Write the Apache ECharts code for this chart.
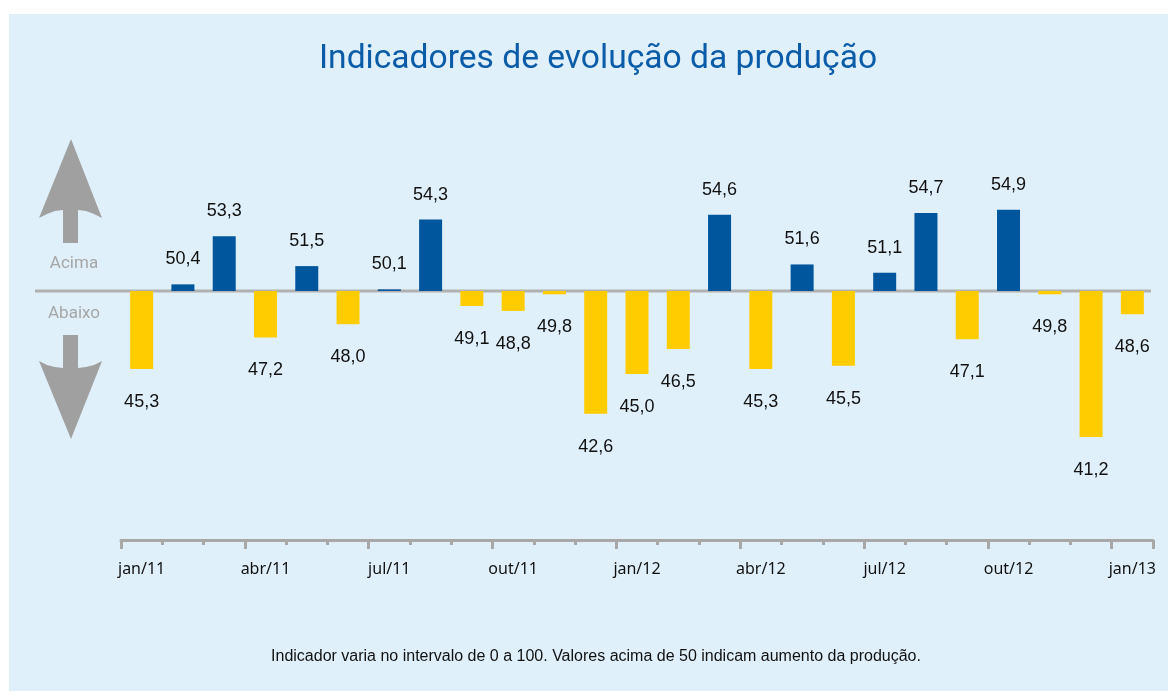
<!DOCTYPE html>
<html>
<head>
<meta charset="utf-8">
<script src="https://cdn.jsdelivr.net/npm/echarts@6/dist/echarts.min.js"></script>
<style>
  html, body { margin: 0; padding: 0; background: #ffffff; }
  #panel { position: absolute; left: 9px; top: 14px; width: 1159px; height: 677px; background: #dff0fb; }
  #main { position: absolute; left: 0; top: 0; width: 1168px; height: 691px; }
</style>
</head>
<body>
<div id="panel"></div>
<div id="main"></div>
<script>
// meses (jan/11 .. jan/13)
const months = ['jan/11','fev/11','mar/11','abr/11','mai/11','jun/11','jul/11','ago/11','set/11','out/11','nov/11','dez/11',
                'jan/12','fev/12','mar/12','abr/12','mai/12','jun/12','jul/12','ago/12','set/12','out/12','nov/12','dez/12','jan/13'];
// indicador de evolucao da producao
const values = [45.3, 50.4, 53.3, 47.2, 51.5, 48.0, 50.1, 54.3, 49.1, 48.8, 49.8, 42.6,
                45.0, 46.5, 54.6, 45.3, 51.6, 45.5, 51.1, 54.7, 47.1, 54.9, 49.8, 41.2, 48.6];
const baseline = 50;

const blue = '#00569c';
const yellow = '#ffcc00';
const grey = '#b1b1b1';
const axisGrey = '#a8a8a8';

var myChart = echarts.init(document.getElementById('main'));

// bars are drawn relative to 50 (acima / abaixo)
const barData = values.map((v) => {
    const above = v >= baseline;
    return {
        value: +(v - baseline).toFixed(1),
        raw: v,
        itemStyle: { color: above ? blue : yellow },
        label: { position: above ? 'top' : 'bottom', distance: above ? 16 : 24 }
    };
});

const fmt = (v) => v.toFixed(1).replace('.', ',');

const option = {
    animation: false,
    title: {
        text: 'Indicadores de evolução da produção',
        left: 593,
        top: 38,
        textAlign: 'center',
        textStyle: { fontFamily: 'Roboto', fontSize: 33.6, fontWeight: 'normal', color: '#0b5ca8' }
    },
    grid: { left: 121, right: 15, top: 125, bottom: 151 },
    xAxis: [
        {
            type: 'category',
            data: months,
            position: 'bottom',
            axisLine: { show: true, onZero: false, lineStyle: { color: axisGrey, width: 3 } },
            axisTick: { show: true, interval: 0, length: 5, lineStyle: { color: axisGrey, width: 3 } },
            axisLabel: {
                interval: (i) => i % 3 === 0,
                margin: 21,
                fontFamily: 'Noto Sans',
                fontSize: 16,
                color: '#111'
            }
        },
        {
            type: 'category',
            data: months,
            position: 'bottom',
            axisLine: { show: false, onZero: false },
            axisTick: { show: true, interval: (i) => i % 3 === 0, length: 9, lineStyle: { color: axisGrey, width: 3 } },
            axisLabel: { show: false }
        }
    ],
    yAxis: {
        type: 'value',
        min: -15,
        max: 10,
        show: false
    },
    series: [
        {
            type: 'bar',
            xAxisIndex: 0,
            data: barData,
            barWidth: 23,
            z: 3,
            label: {
                show: true,
                fontFamily: 'Liberation Sans',
                fontSize: 18,
                color: '#111',
                formatter: (p) => fmt(p.data.raw)
            }
        }
    ]
};
myChart.setOption(option);

// linha de referencia (50) e setas laterais
const y0 = myChart.convertToPixel({ yAxisIndex: 0 }, 0);
const arrowGrey = '#a0a0a0';
myChart.setOption({
    graphic: [
        {
            type: 'line',
            z: 1,
            shape: { x1: 35, y1: y0, x2: 1151, y2: y0 },
            style: { stroke: grey, lineWidth: 3 }
        },
        {
            type: 'polygon',
            shape: { points: [[71,139],[102,218],[94,214],[86,211],[78,210],[78,243],[63,243],[63,210],[55,211],[47,214],[39,218]] },
            style: { fill: arrowGrey }
        },
        {
            type: 'polygon',
            shape: { points: [[63,335],[78,335],[78,368],[86,367],[94,365],[102,361],[71,439],[39,361],[47,365],[55,367],[63,368]] },
            style: { fill: arrowGrey }
        },
        {
            type: 'text',
            x: 74, y: 264,
            style: { text: 'Acima', fill: '#a6a6a6', font: '17px Roboto', align: 'center', verticalAlign: 'middle' }
        },
        {
            type: 'text',
            x: 74, y: 314,
            style: { text: 'Abaixo', fill: '#a6a6a6', font: '17px Roboto', align: 'center', verticalAlign: 'middle' }
        },
        {
            type: 'text',
            x: 596, y: 657,
            style: {
                text: 'Indicador varia no intervalo de 0 a 100. Valores acima de 50 indicam aumento da produção.',
                fill: '#111',
                font: '16px "Liberation Sans Narrow", "Liberation Sans", sans-serif',
                align: 'center',
                verticalAlign: 'middle'
            }
        }
    ]
});
</script>
</body>
</html>
